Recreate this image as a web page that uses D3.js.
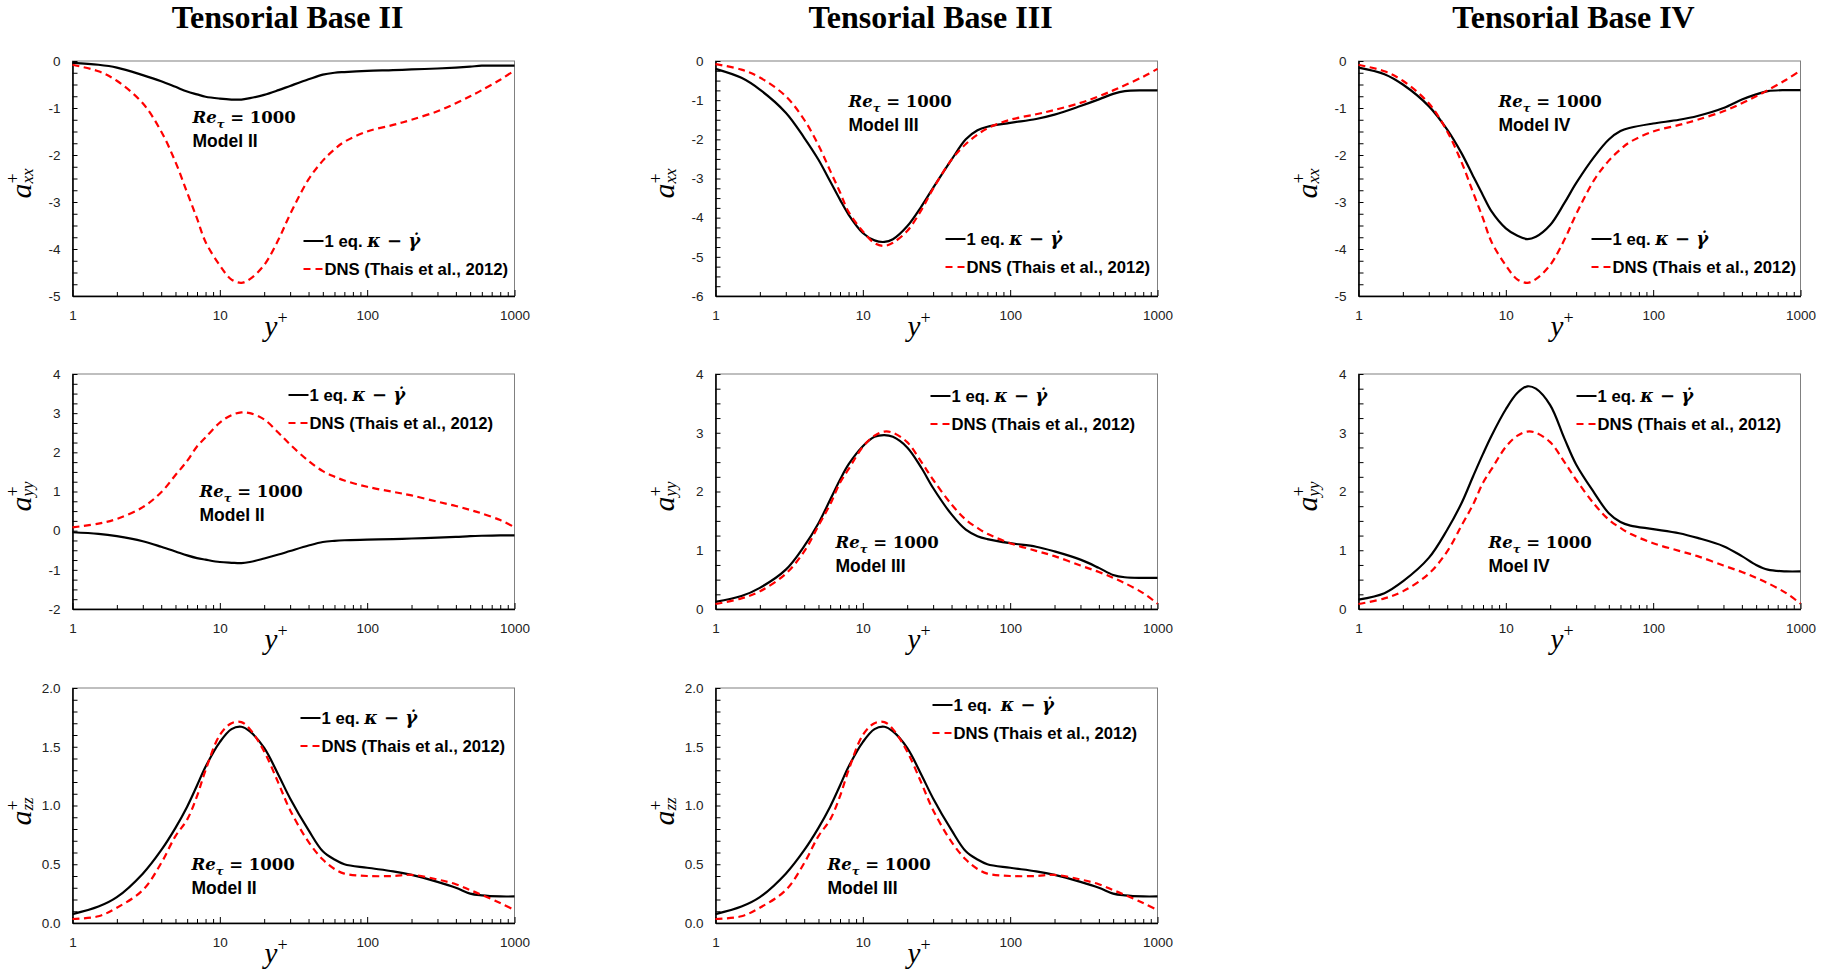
<!DOCTYPE html>
<html>
<head>
<meta charset="utf-8">
<script src="https://cdn.jsdelivr.net/npm/d3@7"></script>
<style>
  body { margin: 0; background: #fff; }
  svg { display: block; }
</style>
</head>
<body>
<div id="chart"></div>
<script>
// y+ sample points shared by every curve
const yPlus = [1, 1.5, 2, 3, 4, 5, 6, 7, 8, 10, 12, 14, 16, 20, 25, 30, 40, 50, 60, 70, 100, 150, 200, 300, 400, 500, 600, 800, 1000];

// DNS (Thais et al., 2012)
const dnsAxx = [-0.08, -0.22, -0.42, -0.9, -1.5, -2.15, -2.8, -3.35, -3.85, -4.35, -4.65, -4.72, -4.64, -4.34, -3.8, -3.26, -2.52, -2.12, -1.88, -1.72, -1.5, -1.36, -1.25, -1.07, -0.9, -0.75, -0.62, -0.4, -0.2];
const dnsAyy = [0.085, 0.18, 0.3, 0.6, 0.98, 1.42, 1.78, 2.15, 2.38, 2.76, 2.95, 3.02, 3.0, 2.84, 2.5, 2.2, 1.78, 1.52, 1.38, 1.28, 1.12, 0.99, 0.9, 0.74, 0.63, 0.53, 0.44, 0.27, 0.09];
const dnsAzz = [0.034, 0.057, 0.13, 0.28, 0.51, 0.74, 0.88, 1.08, 1.3, 1.6, 1.7, 1.71, 1.65, 1.46, 1.19, 0.96, 0.69, 0.54, 0.46, 0.42, 0.4, 0.4, 0.41, 0.37, 0.33, 0.28, 0.24, 0.17, 0.11];

// 1 eq. kappa - gamma-dot model results
const model2Axx = [-0.04, -0.08, -0.14, -0.3, -0.43, -0.55, -0.65, -0.71, -0.76, -0.8, -0.82, -0.82, -0.79, -0.72, -0.62, -0.53, -0.39, -0.29, -0.25, -0.235, -0.21, -0.195, -0.18, -0.16, -0.14, -0.12, -0.1, -0.1, -0.1];
const model3Axx = [-0.2, -0.43, -0.73, -1.32, -1.96, -2.52, -3.07, -3.54, -3.92, -4.39, -4.58, -4.62, -4.55, -4.22, -3.71, -3.24, -2.52, -2.0, -1.77, -1.68, -1.58, -1.48, -1.37, -1.15, -0.98, -0.84, -0.77, -0.75, -0.75];
const model4Axx = [-0.14, -0.28, -0.5, -0.96, -1.46, -1.96, -2.45, -2.86, -3.2, -3.56, -3.72, -3.79, -3.74, -3.49, -3.02, -2.6, -2.03, -1.67, -1.49, -1.42, -1.33, -1.25, -1.17, -1.0, -0.82, -0.71, -0.64, -0.62, -0.62];
const model2Ayy = [-0.04, -0.08, -0.14, -0.27, -0.41, -0.53, -0.63, -0.7, -0.74, -0.8, -0.82, -0.83, -0.8, -0.71, -0.61, -0.52, -0.38, -0.29, -0.26, -0.245, -0.23, -0.215, -0.2, -0.18, -0.16, -0.14, -0.13, -0.12, -0.12];
const model3Ayy = [0.12, 0.22, 0.36, 0.67, 1.07, 1.46, 1.86, 2.2, 2.46, 2.77, 2.93, 2.96, 2.93, 2.75, 2.4, 2.06, 1.61, 1.35, 1.24, 1.19, 1.12, 1.06, 0.98, 0.84, 0.7, 0.58, 0.54, 0.53, 0.53];
const model4Ayy = [0.16, 0.27, 0.47, 0.87, 1.35, 1.8, 2.26, 2.64, 2.95, 3.4, 3.68, 3.79, 3.75, 3.47, 2.9, 2.46, 1.97, 1.63, 1.48, 1.42, 1.36, 1.29, 1.21, 1.07, 0.9, 0.75, 0.67, 0.64, 0.64];
const modelAzz = [0.076, 0.14, 0.22, 0.42, 0.62, 0.81, 0.99, 1.17, 1.33, 1.54, 1.65, 1.67, 1.63, 1.49, 1.26, 1.06, 0.79, 0.61, 0.54, 0.5, 0.47, 0.44, 0.41, 0.35, 0.3, 0.25, 0.235, 0.226, 0.226];

// labels
const columnTitles = ["Tensorial Base II", "Tensorial Base III", "Tensorial Base IV"];
const xTickValues = [1, 10, 100, 1000];
const legendModel = "1 eq. ";
const legendModelWide = "1 eq.  ";
const legendDns = "DNS (Thais et al., 2012)";

const width = 1834, height = 974;
const colLeft = [72.5, 715.5, 1358.5];
const rowTop = [61, 374, 688];
const plotW = 442, plotH = 235;

const panels = [
  { row: 0, col: 0, comp: "xx", model: model2Axx, dns: dnsAxx, yDomain: [-5, 0], step: 1, minor: 0.25, fmt: "d", name: "Model II", re: [120, 62], leg: [231, 180] },
  { row: 0, col: 1, comp: "xx", model: model3Axx, dns: dnsAxx, yDomain: [-6, 0], step: 1, minor: 0.25, fmt: "d", name: "Model III", re: [133, 46], leg: [230, 178] },
  { row: 0, col: 2, comp: "xx", model: model4Axx, dns: dnsAxx, yDomain: [-5, 0], step: 1, minor: 0.25, fmt: "d", name: "Model IV", re: [140, 46], leg: [233, 178] },
  { row: 1, col: 0, comp: "yy", model: model2Ayy, dns: dnsAyy, yDomain: [-2, 4], step: 1, minor: 0.25, fmt: "d", name: "Model II", re: [127, 123], leg: [216, 21] },
  { row: 1, col: 1, comp: "yy", model: model3Ayy, dns: dnsAyy, yDomain: [0, 4], step: 1, minor: 0.25, fmt: "d", name: "Model III", re: [120, 174], leg: [215, 22] },
  { row: 1, col: 2, comp: "yy", model: model4Ayy, dns: dnsAyy, yDomain: [0, 4], step: 1, minor: 0.25, fmt: "d", name: "Moel IV", re: [130, 174], leg: [218, 22] },
  { row: 2, col: 0, comp: "zz", model: modelAzz, dns: dnsAzz, yDomain: [0, 2], step: 0.5, minor: 0.1, fmt: ".1f", name: "Model II", re: [119, 182], leg: [228, 30] },
  { row: 2, col: 1, comp: "zz", model: modelAzz, dns: dnsAzz, yDomain: [0, 2], step: 0.5, minor: 0.1, fmt: ".1f", name: "Model III", re: [112, 182], leg: [217, 17], wide: true }
];

const sans = "'Liberation Sans', Arial, sans-serif";
const serif = "'Liberation Serif', 'Times New Roman', serif";
const mathSerif = "'DejaVu Serif', 'Liberation Serif', serif";

const svg = d3.select("#chart").append("svg")
  .attr("width", width)
  .attr("height", height)
  .style("background", "#fff");

// Column titles
columnTitles.forEach((t, i) => {
  svg.append("text")
    .attr("x", colLeft[i] + plotW / 2 - 6)
    .attr("y", 28)
    .attr("text-anchor", "middle")
    .style("font-family", serif)
    .style("font-weight", "bold")
    .style("font-size", "32px")
    .text(t);
});

const x = d3.scaleLog().domain([1, 1000]).range([0, plotW]);
const minorX = [];
[1, 10, 100].forEach(d => { for (let k = 2; k <= 9; k++) minorX.push(d * k); });

panels.forEach(p => {
  const g = svg.append("g")
    .attr("transform", `translate(${colLeft[p.col]},${rowTop[p.row]})`);

  const y = d3.scaleLinear().domain(p.yDomain).range([plotH, 0]);
  const majorY = d3.range(p.yDomain[0], p.yDomain[1] + p.step / 2, p.step);
  const minorY = d3.range(p.yDomain[0], p.yDomain[1] + p.minor / 2, p.minor)
    .filter(v => Math.abs(v / p.step - Math.round(v / p.step)) > 1e-6);

  // frame (top and right)
  g.append("rect")
    .attr("width", plotW)
    .attr("height", plotH)
    .attr("fill", "none")
    .attr("stroke", "#808080")
    .attr("stroke-width", 1);

  // x axis
  const xAxis = g.append("g")
    .attr("transform", `translate(0,${plotH})`)
    .call(d3.axisBottom(x).tickValues(xTickValues).tickFormat(d3.format("d")).tickSize(-6).tickSizeOuter(0).tickPadding(14));
  g.append("g")
    .attr("transform", `translate(0,${plotH})`)
    .call(d3.axisBottom(x).tickValues(minorX).tickFormat("").tickSize(-4).tickSizeOuter(0))
    .select(".domain").remove();

  // y axis
  const fmt = d3.format(p.fmt);
  const yAxis = g.append("g")
    .call(d3.axisLeft(y).tickValues(majorY).tickFormat(d => fmt(d).replace("−", "-")).tickSize(-5).tickSizeOuter(0).tickPadding(12));
  g.append("g")
    .call(d3.axisLeft(y).tickValues(minorY).tickFormat("").tickSize(-5).tickSizeOuter(0))
    .select(".domain").remove();

  [xAxis, yAxis].forEach(a => {
    a.select(".domain").attr("stroke", "#000").attr("stroke-width", 1.6);
    a.selectAll("text")
      .style("font-family", sans)
      .style("font-size", "13.5px")
      .attr("fill", "#222");
  });
  g.selectAll(".tick line").attr("stroke", "#000");

  // curves
  const rows = yPlus.map((v, i) => ({ x: v, m: p.model[i], d: p.dns[i] }));
  const lineM = d3.line().x(d => x(d.x)).y(d => y(d.m)).curve(d3.curveCatmullRom.alpha(0.5));
  const lineD = d3.line().x(d => x(d.x)).y(d => y(d.d)).curve(d3.curveCatmullRom.alpha(0.5));

  g.append("path")
    .datum(rows)
    .attr("d", lineM)
    .attr("fill", "none")
    .attr("stroke", "#000")
    .attr("stroke-width", 2.2);

  g.append("path")
    .datum(rows)
    .attr("d", lineD)
    .attr("fill", "none")
    .attr("stroke", "#ff0000")
    .attr("stroke-width", 2.2)
    .attr("stroke-dasharray", "7,4.5");

  // x label y+
  const xl = g.append("text")
    .attr("x", plotW / 2 - 29)
    .attr("y", plotH + 40)
    .style("font-family", serif)
    .style("font-style", "italic")
    .style("font-size", "29px");
  xl.append("tspan").text("y");
  xl.append("tspan").attr("dy", -12).style("font-size", "18px").style("font-style", "normal").text("+");

  // y label a+_ij
  const yl = g.append("g")
    .attr("transform", `translate(-42,${plotH / 2 + 4}) rotate(-90)`);
  const aText = yl.append("text")
    .attr("x", -16)
    .attr("y", 0)
    .style("font-family", serif)
    .style("font-style", "italic")
    .style("font-size", "30px")
    .text("a");
  const aw = aText.node().getComputedTextLength();
  yl.append("text")
    .attr("x", -16 + aw)
    .attr("y", -12)
    .style("font-family", serif)
    .style("font-size", "18px")
    .text("+");
  yl.append("text")
    .attr("x", -16 + aw)
    .attr("y", 2)
    .style("font-family", serif)
    .style("font-style", "italic")
    .style("font-size", "17px")
    .text(p.comp);

  // Re_tau annotation
  const re = g.append("text")
    .attr("x", p.re[0])
    .attr("y", p.re[1])
    .style("font-family", mathSerif)
    .style("font-weight", "bold")
    .style("font-size", "16.5px");
  re.append("tspan").style("font-style", "italic").text("Re");
  re.append("tspan").attr("dy", 5).style("font-style", "italic").style("font-size", "11.5px").text("τ");
  re.append("tspan").attr("dy", -5).text(" = 1000");

  g.append("text")
    .attr("x", p.re[0])
    .attr("y", p.re[1] + 24)
    .style("font-family", sans)
    .style("font-weight", "bold")
    .style("font-size", "17.5px")
    .text(p.name);

  // legend
  const [lx, ly] = p.leg;
  g.append("line")
    .attr("x1", lx).attr("x2", lx + 20)
    .attr("y1", ly).attr("y2", ly)
    .attr("stroke", "#000").attr("stroke-width", 2);
  const t1 = g.append("text")
    .attr("x", lx + 21)
    .attr("y", ly + 6)
    .style("font-weight", "bold");
  t1.append("tspan").style("font-family", sans).style("font-size", "16.7px").style("white-space", "pre").text(p.wide ? legendModelWide : legendModel);
  t1.append("tspan").style("font-family", mathSerif).style("font-style", "italic").style("font-size", "18px").text("κ − γ̇");

  g.append("line")
    .attr("x1", lx).attr("x2", lx + 20)
    .attr("y1", ly + 28).attr("y2", ly + 28)
    .attr("stroke", "#ff0000").attr("stroke-width", 2)
    .attr("stroke-dasharray", "7,5");
  g.append("text")
    .attr("x", lx + 21)
    .attr("y", ly + 34)
    .style("font-family", sans)
    .style("font-weight", "bold")
    .style("font-size", "16.7px")
    .text(legendDns);
});
</script>
</body>
</html>
